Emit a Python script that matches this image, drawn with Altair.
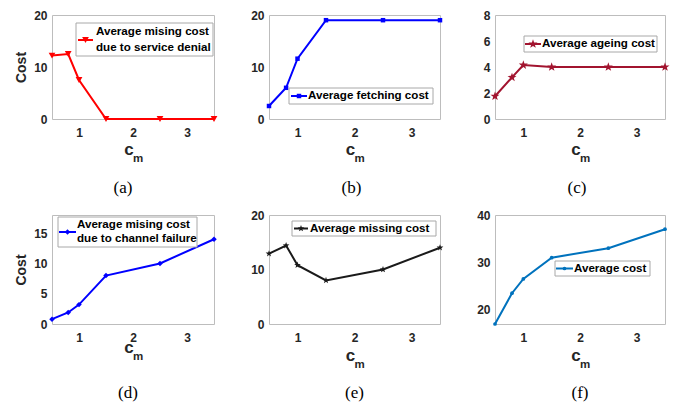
import altair as alt
import pandas as pd

# ---------------- data ----------------
cm = [0.5, 0.8, 1.0, 1.5, 2.5, 3.5]
cost_service_denial = [12.2, 12.5, 7.5, 0.0, 0.0, 0.0]
cost_fetching = [2.5, 6.0, 11.6, 19.0, 19.0, 19.0]
cost_ageing = [1.75, 3.2, 4.15, 4.0, 4.0, 4.0]
cost_channel_failure = [0.8, 1.9, 3.2, 8.0, 10.0, 14.0]
cost_missing = [12.9, 14.4, 10.8, 8.0, 10.0, 14.0]
cost_average = [17.0, 23.5, 26.5, 31.0, 33.0, 37.0]

legend_a = ["Average mising cost", "due to service denial"]
legend_b = ["Average fetching cost"]
legend_c = ["Average ageing cost"]
legend_d = ["Average mising cost", "due to channel failure"]
legend_e = ["Average missing cost"]
legend_f = ["Average cost"]

captions = ["(a)", "(b)", "(c)", "(d)", "(e)", "(f)"]
x_ticks = [1, 2, 3]

FONT = "Liberation Sans"
STAR = ("M0,-1L0.235,-0.324L0.951,-0.309L0.38,0.124L0.588,0.809L0,0.4"
        "L-0.588,0.809L-0.38,0.124L-0.951,-0.309L-0.235,-0.324Z")


def panel(values, color, shape, size, ydomain, yticks, w, h, ytitle,
          leg_lines, leg_box, leg_line, leg_text_x, leg_ys, caption,
          cap_dx, cap_dy, cm_dy):
    df = pd.DataFrame({"x": cm, "y": values})
    xenc = alt.X("x:Q", scale=alt.Scale(domain=[0.5, 3.5], nice=False, zero=False),
                 axis=alt.Axis(values=x_ticks, format="d", title="",
                               labelFont=FONT, labelFontWeight="bold", labelFontSize=12,
                               labelColor="#262626", ticks=False, domain=False, grid=False,
                               labelPadding=8))
    yenc = alt.Y("y:Q", scale=alt.Scale(domain=ydomain, nice=False, zero=False),
                 axis=alt.Axis(values=yticks, format="d", title=ytitle,
                               labelFont=FONT, labelFontWeight="bold", labelFontSize=12,
                               labelColor="#262626", ticks=False, domain=False, grid=False,
                               labelPadding=5, titleFont=FONT, titleFontWeight="bold",
                               titleFontSize=14, titleColor="#262626", titlePadding=5))
    base = alt.Chart(df)
    line = base.mark_line(color=color, strokeWidth=2).encode(x=xenc, y=yenc)
    pts = base.mark_point(shape=shape, filled=True, size=size, color=color,
                          opacity=1).encode(x=xenc, y=yenc)
    a = alt.Chart(pd.DataFrame({"k": [0]}))
    bx, by, bw, bh = leg_box
    box = a.mark_rect(fill="white", stroke="#a8a8a8", strokeWidth=1).encode(
        x=alt.value(bx), x2=alt.value(bx + bw), y=alt.value(by), y2=alt.value(by + bh))
    lx1, lx2, ly = leg_line
    lrule = a.mark_rule(color=color, strokeWidth=2).encode(
        x=alt.value(lx1), x2=alt.value(lx2), y=alt.value(ly))
    lpt = a.mark_point(shape=shape, filled=True, size=size, color=color, opacity=1).encode(
        x=alt.value((lx1 + lx2) / 2), y=alt.value(ly))
    layers = [line, pts, box, lrule, lpt]
    for txt, ty in zip(leg_lines, leg_ys):
        layers.append(a.mark_text(align="left", baseline="middle", font=FONT,
                                  fontWeight="bold", fontSize=11.6, color="black").encode(
            x=alt.value(leg_text_x), y=alt.value(ty), text=alt.value(txt)))
    layers.append(a.mark_text(align="center", baseline="bottom", font=FONT,
                              fontWeight="bold", fontSize=17, color="#262626").encode(
        x=alt.value(w / 2 - 4), y=alt.value(h + cm_dy), text=alt.value("c")))
    layers.append(a.mark_text(align="center", baseline="bottom", font=FONT,
                              fontWeight="bold", fontSize=11.5, color="#262626").encode(
        x=alt.value(w / 2 + 5), y=alt.value(h + cm_dy + 5), text=alt.value("m")))
    layers.append(a.mark_text(align="center", baseline="middle", font="Liberation Serif",
                              fontSize=17, color="black").encode(
        x=alt.value(w / 2 + cap_dx), y=alt.value(h + cap_dy), text=alt.value(caption)))
    return alt.layer(*layers).properties(width=w, height=h)


H1 = 104
H2 = 109
pa = panel(cost_service_denial, "#ff0000", "triangle-down", 45, [0, 20], [0, 10, 20],
           162, H1, "Cost", legend_a, (24, 8, 137, 33), (26, 41, 25), 44, (17, 33),
           captions[0], -10, 69, 40)
pb = panel(cost_fetching, "#0000ff", "square", 20, [0, 20], [0, 10, 20],
           171, H1, "", legend_b, (20, 73, 144, 16), (22, 38, 81), 39, (81,),
           captions[1], -3, 69, 40)
pc = panel(cost_ageing, "#a2142f", STAR, 90, [0, 8], [0, 2, 4, 6, 8],
           170, H1, "", legend_c, (29, 21, 133, 16), (30, 46, 29), 47, (29,),
           captions[2], -3, 69, 40)
pd_ = panel(cost_channel_failure, "#0000ff", "diamond", 30, [0, 18], [0, 5, 10, 15],
            162, H2, "Cost", legend_d, (6, 2, 139, 30), (7, 24, 17), 25, (10, 24),
            captions[3], -5, 69, 33)
pe = panel(cost_missing, "#1a1a1a", STAR, 50, [0, 20], [0, 10, 20],
           171, H2, "", legend_e, (23, 6, 144, 15), (25, 39, 13.5), 41, (13.5,),
           captions[4], 0, 69, 41)
pf = panel(cost_average, "#0072bd", "circle", 14, [17, 40], [20, 30, 40],
           170, H2, "", legend_f, (60, 46, 95, 15), (61, 78, 53.5), 79, (53.5,),
           captions[5], 0, 69, 41)

chart = alt.concat(pa, pb, pc, pd_, pe, pf, columns=3,
                   spacing={"row": 96, "column": 55}, bounds="flush").properties(
    padding={"left": 6, "top": 0, "right": 0, "bottom": 0}
).configure_view(stroke="#bdbdbd", strokeWidth=1)

chart.save("out.html", embed_options={"renderer": "svg", "actions": False})
